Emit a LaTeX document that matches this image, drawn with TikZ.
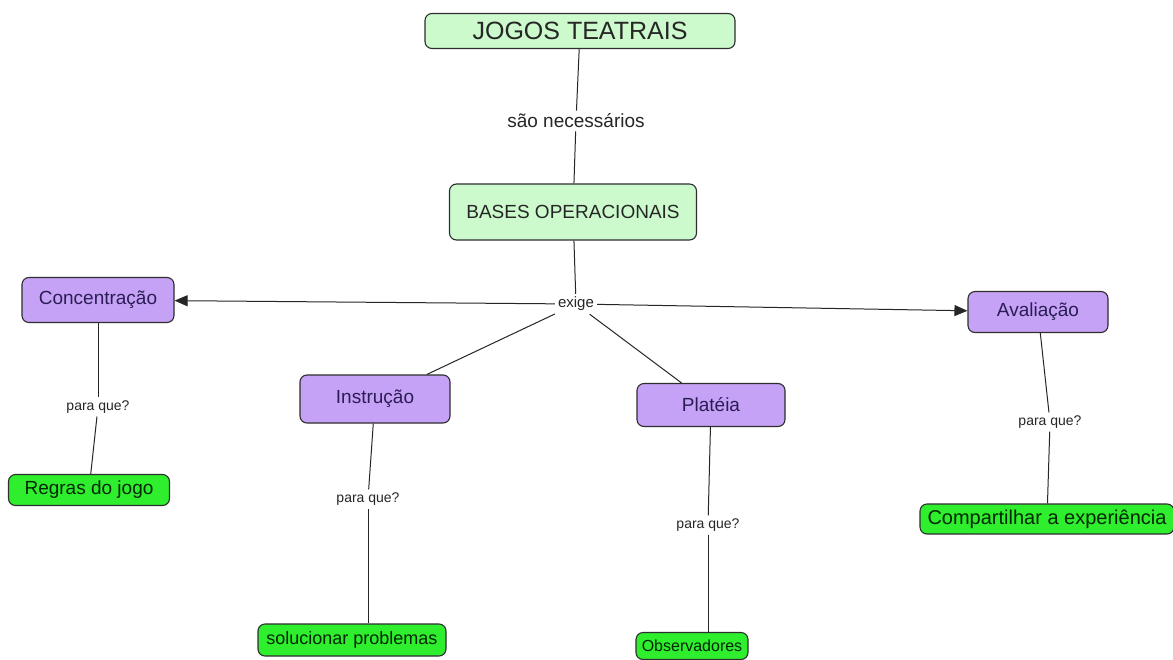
\documentclass[tikz,border=0pt]{standalone}
\usepackage{fontspec}
\setmainfont{Liberation Sans}
\usetikzlibrary{arrows.meta}
\definecolor{Jcolor}{HTML}{CCFACC}
\definecolor{Pcolor}{HTML}{C6A2F6}
\definecolor{Gcolor}{HTML}{2EEE2E}
\definecolor{Lcolor}{HTML}{2E2E2E}
\definecolor{Tcolor}{HTML}{2A1D55}

\begin{document}
\begin{tikzpicture}[x=1pt, y=-1pt,
  base/.style={draw=Lcolor, line width=1.1pt, rounded corners=7pt, inner sep=2pt, align=center},
  topo/.style={base, fill=Jcolor, text=black!85},
  fase/.style={base, fill=Pcolor, text=Tcolor, font=\fontsize{19}{21}\selectfont},
  meta/.style={base, fill=Gcolor, text=green!15!black, font=\fontsize{19}{21}\selectfont},
  liga/.style={inner sep=3pt, text=black!85, font=\fontsize{14}{16}\selectfont},
  seta/.style={-{Triangle[length=13pt,width=11pt]}},
  linha/.style={line width=1pt, black!85},
]
  \path[use as bounding box, fill=white] (0,0) rectangle (1173,659);

  % conceitos
  \node[topo, minimum width=310pt, minimum height=35pt, font=\fontsize{25}{27}\selectfont] (jogos) at (580,31) {JOGOS TEATRAIS};
  \node[topo, minimum width=247pt, minimum height=56pt, font=\fontsize{19}{21}\selectfont] (bases) at (573,212) {BASES OPERACIONAIS};

  \node[fase, minimum width=152pt, minimum height=45pt] (conc) at (98,300) {Concentração};
  \node[fase, minimum width=140pt, minimum height=41pt] (aval) at (1038,312) {Avaliação};
  \node[fase, minimum width=150pt, minimum height=48pt] (instr) at (375,399) {Instrução};
  \node[fase, minimum width=148pt, minimum height=43pt] (plat) at (711,405) {Platéia};

  \node[meta, minimum width=161pt, minimum height=31pt] (regras) at (89,490) {Regras do jogo};
  \node[meta, minimum width=188pt, minimum height=32pt, font=\fontsize{18}{20}\selectfont] (sol) at (352,640) {solucionar problemas};
  \node[meta, minimum width=112pt, minimum height=27pt, font=\fontsize{16}{18}\selectfont] (obs) at (692,646) {Observadores};
  \node[meta, minimum width=254pt, minimum height=30pt, font=\fontsize{20}{22}\selectfont] (comp) at (1047,519) {Compartilhar a experiência};

  % frases de ligacao
  \node[liga, font=\fontsize{19}{21}\selectfont] (necess) at (576,121) {são necessários};
  \node[liga, font=\fontsize{15}{17}\selectfont] (exige) at (576,304) {exige};
  \node[liga] (pq1) at (98,407) {para que?};
  \node[liga] (pq2) at (368,499) {para que?};
  \node[liga] (pq3) at (708,525) {para que?};
  \node[liga] (pq4) at (1050,422) {para que?};

  \foreach \a/\b in {jogos/necess, necess/bases, bases/exige, exige/instr, exige/plat,
                     conc/pq1, pq1/regras, instr/pq2, plat/pq3, aval/pq4, pq4/comp} {
    \draw[linha] (\a) -- (\b);
  }
  \draw[linha] (pq2) -- (pq2 |- sol.north);
  \draw[linha] (pq3) -- (pq3 |- obs.north);
  \draw[linha, seta] (exige) -- (conc);
  \draw[linha, seta] (exige) -- (aval);
\end{tikzpicture}
\end{document}
